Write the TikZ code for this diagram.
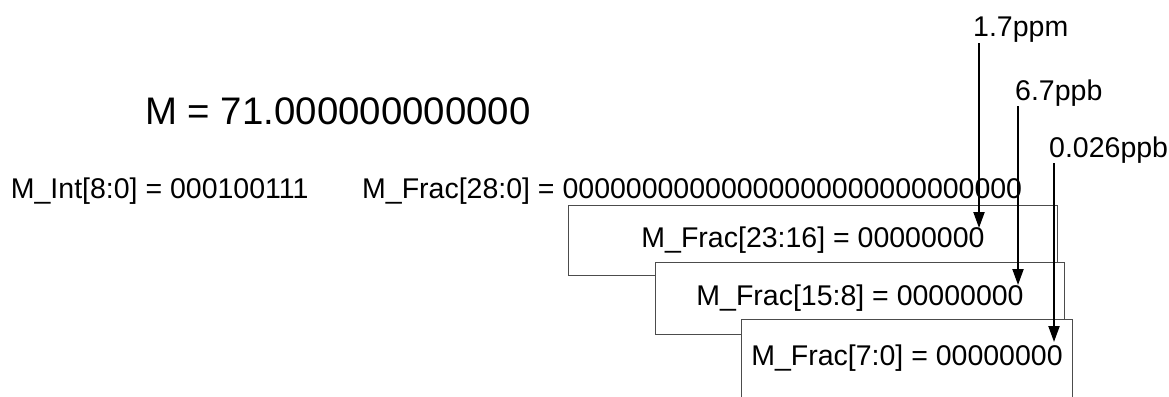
\documentclass[tikz,border=0pt]{standalone}
\usepackage{fontspec}
\setmainfont{Liberation Sans}
\usetikzlibrary{arrows.meta}
\begin{document}
\begin{tikzpicture}[x=1pt,y=-1pt,
  txt/.style={font=\fontsize{28.5}{30}\selectfont, inner sep=0pt, anchor=base west},
  big/.style={font=\fontsize{38.4}{40}\selectfont, inner sep=0pt, anchor=base west},
  regbox/.style={draw=black!70, line width=1pt, fill=white, inner sep=0pt, anchor=north west, font=\fontsize{28.5}{30}\selectfont},
  arr/.style={line width=2pt, -{Triangle[length=16pt,width=11pt]}}]
\useasboundingbox (0,0) rectangle (1169,396);
\node[big] (m) at (145,124) {M = 71.000000000000};
\node[txt] (mint) at (10.7,198) {M\_Int[8:0] = 000100111};
\node[txt] (mfrac) at (362,198) {M\_Frac[28:0] = 00000000000000000000000000000};
\node[regbox, minimum width=489pt, minimum height=70pt] (b1) at (568,205) {M\_Frac[23:16] = 00000000};
\node[regbox, minimum width=409pt, minimum height=72pt] (b2) at (655,262) {M\_Frac[15:8] = 00000000};
\node[regbox, minimum width=331pt, minimum height=78pt] (b3) at (741,319) {M\_Frac[7:0] = 00000000};
\node[txt] (l1) at (973,37) {1.7ppm};
\node[txt] (l2) at (1015,100) {6.7ppb};
\node[txt] (l3) at (1049,157) {0.026ppb};
\coordinate (t1) at (979,228);
\coordinate (t2) at (1018,285);
\coordinate (t3) at (1054,342);
\draw[arr] (l1.south -| t1) -- (t1);
\draw[arr] (l2.south -| t2) -- (t2);
\draw[arr] (l3.south -| t3) -- (t3);
\end{tikzpicture}
\end{document}
